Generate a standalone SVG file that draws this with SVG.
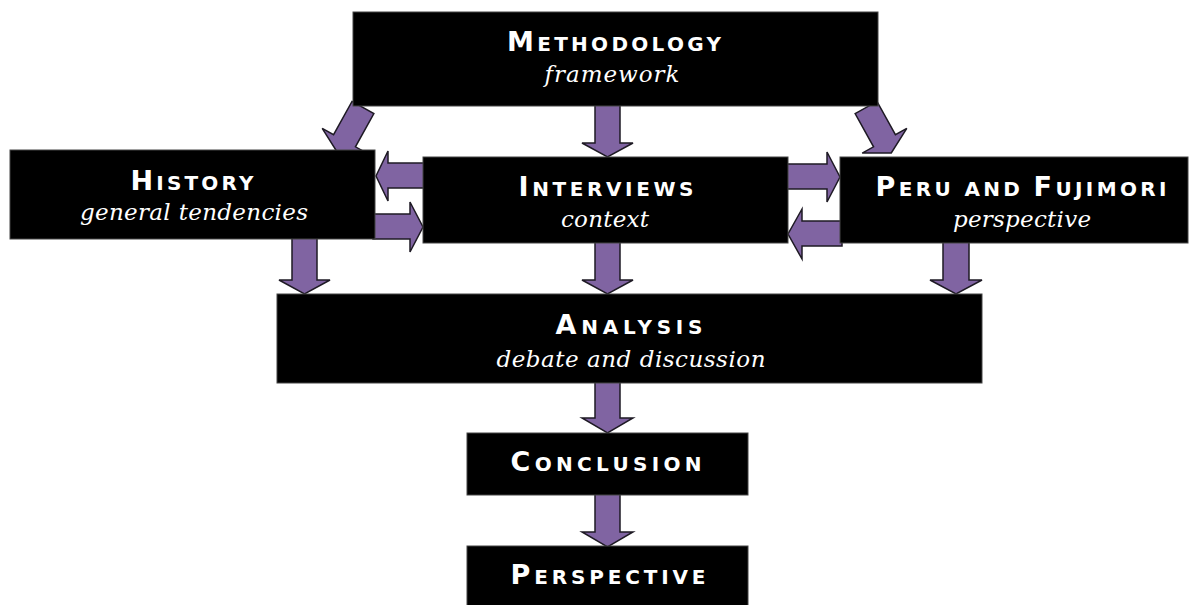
<svg xmlns="http://www.w3.org/2000/svg" width="1198" height="605" viewBox="0 0 1198 605">
  <defs>
    <style>
      .box { fill: #000; stroke: #444; stroke-width: 1; }
      .arrow { fill: #8064a2; stroke: #1e1a24; stroke-width: 1.5; stroke-linejoin: miter; }
      .title { font-family: "DejaVu Sans", "Liberation Sans", sans-serif; font-weight: bold; fill: #fff; text-anchor: middle; }
      .title .big { font-size: 27px; }
      .title .small { font-size: 20px; }
      .sub { font-family: "DejaVu Serif", "Liberation Serif", serif; font-style: italic; font-size: 23px; fill: #fff; text-anchor: middle; }
    </style>
    <!-- generic down-pointing block arrow, origin at top centre of shaft -->
    <polygon id="down" points="-12.5,-4 12.5,-4 12.5,34 25.5,34 0,48 -25.5,34 -12.5,34"/>
  </defs>

  <rect width="1198" height="605" fill="#fff"/>

  <g id="connectors">
    <!-- Methodology to History / Interviews / Peru -->
    <use href="#down" class="arrow" transform="translate(361,111) rotate(29)"/>
    <polygon class="arrow" points="595,104 620,104 620,143 633,143 607.5,157 582,143 595,143"/>
    <use href="#down" class="arrow" transform="translate(868,111) rotate(-29)"/>
    <!-- History <-> Interviews -->
    <polygon class="arrow" points="425,163 388,163 388,151 376,176 388,201 388,188 425,188"/>
    <polygon class="arrow" points="373,214 410,214 410,202 423,227 410,252 410,239 373,239"/>
    <!-- Interviews <-> Peru and Fujimori -->
    <polygon class="arrow" points="786,164 827,164 827,152 840,177 827,202 827,189 786,189"/>
    <polygon class="arrow" points="842,221 802,221 802,209 788,234 802,259 802,246 842,246"/>
    <!-- into Analysis -->
    <polygon class="arrow" points="292,238 317,238 317,280 330,280 304.5,294 279,280 292,280"/>
    <polygon class="arrow" points="595,240 620,240 620,280 633,280 607.5,294 582,280 595,280"/>
    <polygon class="arrow" points="943,240 969,240 969,280 982,280 956,294 930,280 943,280"/>
    <!-- Analysis to Conclusion to Perspective -->
    <polygon class="arrow" points="595,381 620,381 620,418 633,418 607.5,433 582,418 595,418"/>
    <polygon class="arrow" points="595,494 620,494 620,532 633,532 607.5,547 582,532 595,532"/>
  </g>

  <g id="methodology">
    <rect class="box" x="353" y="12" width="525" height="94"/>
    <text class="title" x="614" y="51" textLength="214" lengthAdjust="spacing"><tspan class="big">M</tspan><tspan class="small">ETHODOLOGY</tspan></text>
    <text class="sub" x="612" y="82" textLength="135" lengthAdjust="spacing">framework</text>
  </g>

  <g id="history">
    <rect class="box" x="10" y="150" width="365" height="89"/>
    <text class="title" x="192" y="190" textLength="123" lengthAdjust="spacing"><tspan class="big">H</tspan><tspan class="small">ISTORY</tspan></text>
    <text class="sub" x="194" y="220" textLength="228" lengthAdjust="spacing">general tendencies</text>
  </g>

  <g id="interviews">
    <rect class="box" x="423" y="157" width="365" height="86"/>
    <text class="title" x="606" y="196" textLength="175" lengthAdjust="spacing"><tspan class="big">I</tspan><tspan class="small">NTERVIEWS</tspan></text>
    <text class="sub" x="605" y="227" textLength="88" lengthAdjust="spacing">context</text>
  </g>

  <g id="peru-fujimori">
    <rect class="box" x="840" y="157" width="348" height="86"/>
    <text class="title" x="1021" y="196" textLength="291" lengthAdjust="spacing"><tspan class="big">P</tspan><tspan class="small">ERU AND </tspan><tspan class="big">F</tspan><tspan class="small">UJIMORI</tspan></text>
    <text class="sub" x="1022" y="227" textLength="138" lengthAdjust="spacing">perspective</text>
  </g>

  <g id="analysis">
    <rect class="box" x="277" y="294" width="705" height="89"/>
    <text class="title" x="629" y="334" textLength="147" lengthAdjust="spacing"><tspan class="big">A</tspan><tspan class="small">NALYSIS</tspan></text>
    <text class="sub" x="631" y="367" textLength="269" lengthAdjust="spacing">debate and discussion</text>
  </g>

  <g id="conclusion">
    <rect class="box" x="467" y="433" width="281" height="62"/>
    <text class="title" x="606" y="471" textLength="191" lengthAdjust="spacing"><tspan class="big">C</tspan><tspan class="small">ONCLUSION</tspan></text>
  </g>

  <g id="perspective">
    <rect class="box" x="467" y="546" width="281" height="62"/>
    <text class="title" x="608" y="584" textLength="195" lengthAdjust="spacing"><tspan class="big">P</tspan><tspan class="small">ERSPECTIVE</tspan></text>
  </g>
</svg>
